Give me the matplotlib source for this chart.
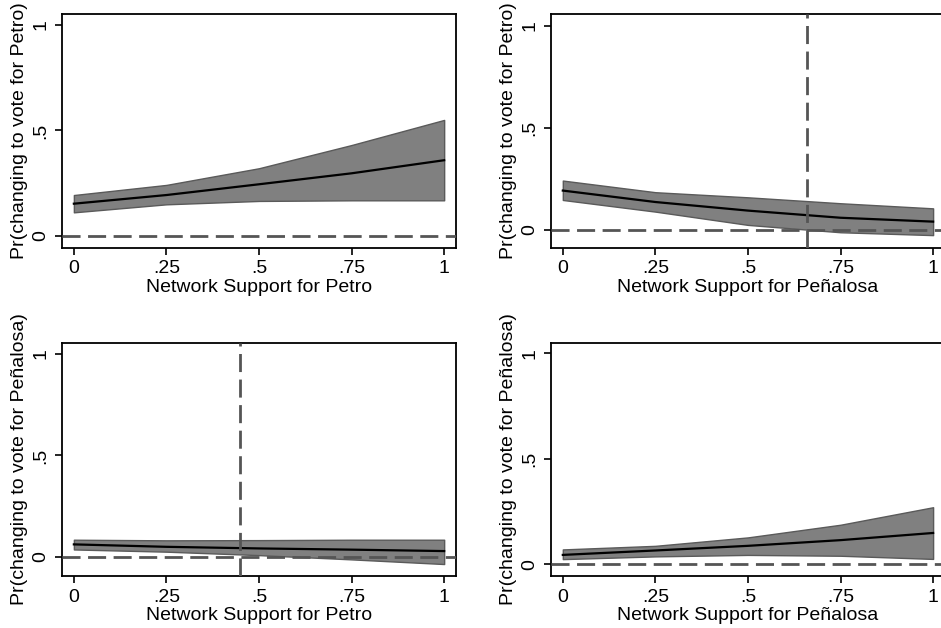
import matplotlib.pyplot as plt
import numpy as np

plt.rcParams['font.family'] = ['Liberation Sans', 'DejaVu Sans']
plt.rcParams['font.size'] = 14

# support levels at which predictions were evaluated
support = [0, 0.25, 0.5, 0.75, 1]

# Petro vote, Petro network support
pp_mean = [0.153, 0.194, 0.245, 0.297, 0.359]
pp_hi = [0.194, 0.242, 0.321, 0.431, 0.550]
pp_lo = [0.112, 0.150, 0.166, 0.169, 0.169]

# Petro vote, Penalosa network support
ppe_mean = [0.193, 0.137, 0.095, 0.060, 0.041]
ppe_hi = [0.242, 0.185, 0.160, 0.131, 0.106]
ppe_lo = [0.147, 0.090, 0.025, -0.011, -0.025]

# Penalosa vote, Petro network support
pep_mean = [0.061, 0.049, 0.041, 0.035, 0.028]
pep_hi = [0.084, 0.081, 0.082, 0.084, 0.084]
pep_lo = [0.036, 0.025, 0.008, -0.013, -0.036]

# Penalosa vote, Penalosa network support
pepe_mean = [0.044, 0.065, 0.087, 0.114, 0.148]
pepe_hi = [0.070, 0.087, 0.127, 0.187, 0.270]
pepe_lo = [0.024, 0.037, 0.044, 0.040, 0.025]

xticks = [0, 0.25, 0.5, 0.75, 1]
xticklabels = ['0', '.25', '.5', '.75', '1']
yticks = [0, 0.5, 1]
yticklabels = ['0', '.5', '1']

panels = [
    # (rect, mean, hi, lo, xlabel, ylabel, vline, ylim)
    ([0.0659, 0.6051, 0.4187, 0.3726], pp_mean, pp_hi, pp_lo,
     'Network Support for Petro', 'Pr(changing to vote for Petro)', None, (-0.057, 1.052)),
    ([0.5855, 0.6051, 0.4187, 0.3726], ppe_mean, ppe_hi, ppe_lo,
     'Network Support for Peñalosa', 'Pr(changing to vote for Petro)', 0.66, (-0.088, 1.057)),
    ([0.0659, 0.0828, 0.4187, 0.3715], pep_mean, pep_hi, pep_lo,
     'Network Support for Petro', 'Pr(changing to vote for Peñalosa)', 0.45, (-0.095, 1.056)),
    ([0.5855, 0.0828, 0.4187, 0.3715], pepe_mean, pepe_hi, pepe_lo,
     'Network Support for Peñalosa', 'Pr(changing to vote for Peñalosa)', None, (-0.056, 1.05)),
]

dash = (0, (6.5, 2.7))

fig = plt.figure(figsize=(9.41, 6.28), dpi=100)

for rect, mean, hi, lo, xlab, ylab, vline, ylim in panels:
    ax = fig.add_axes(rect)
    ax.fill_between(support, lo, hi, facecolor='#808080', edgecolor='#5a5a5a',
                    linewidth=1.0, zorder=2)
    ax.plot(support, mean, color='black', linewidth=1.6, zorder=3)
    ax.axhline(0, color='#555555', linewidth=2.0, linestyle=dash, zorder=4)
    if vline is not None:
        ax.axvline(vline, color='#555555', linewidth=2.0, linestyle=dash, zorder=4)
    ax.set_xlim(-0.032, 1.032)
    ax.set_ylim(*ylim)
    ax.set_xticks(xticks)
    ax.set_xticklabels(xticklabels)
    ax.set_yticks(yticks)
    ax.set_yticklabels(yticklabels, rotation=90, va='center')
    ax.set_xlabel(xlab, labelpad=1)
    ax.set_ylabel(ylab, labelpad=3)
    ax.tick_params(direction='out', length=5, width=1.2, pad=4)
    for s in ax.spines.values():
        s.set_linewidth(1.3)

fig.savefig('out.png', dpi=100)
